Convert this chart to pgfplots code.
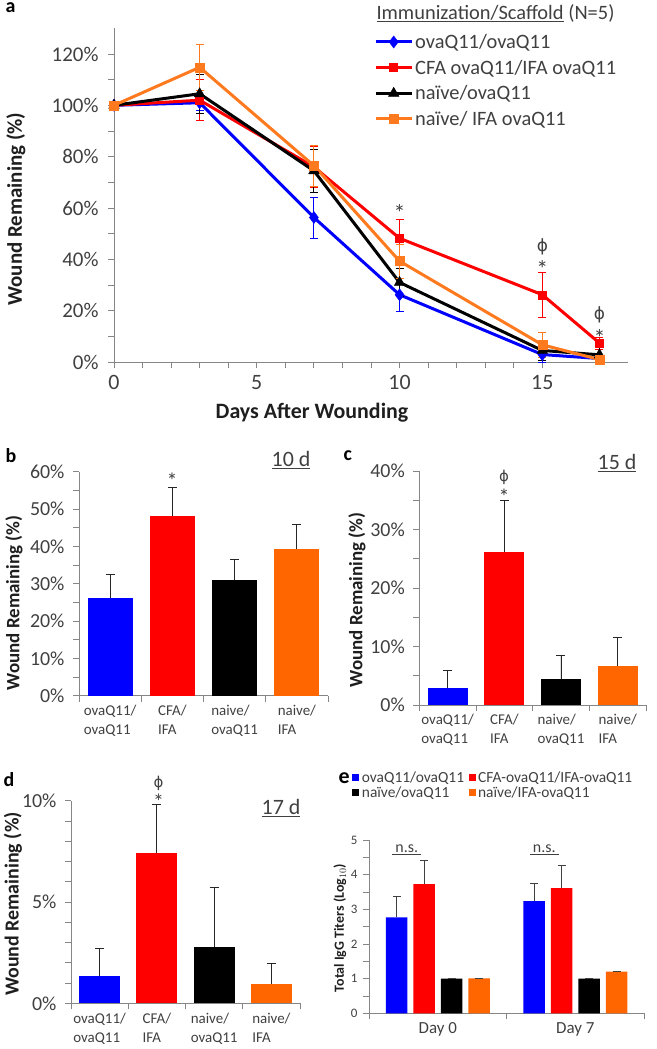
\documentclass[border=0pt]{standalone}
\usepackage{fontspec}
\setmainfont{Carlito}
\newfontfamily\dvs{DejaVu Sans}
\usepackage{pgfplots}
\pgfplotsset{compat=1.18}
\definecolor{cblue}{RGB}{0,0,255}
\definecolor{cred}{RGB}{255,0,0}
\definecolor{corange}{RGB}{255,102,0}
\definecolor{corl}{RGB}{255,122,30}
\definecolor{axgray}{RGB}{134,134,134}
\definecolor{txt}{RGB}{64,64,64}
\definecolor{ttl}{RGB}{30,30,30}
\newcommand{\fs}[1]{\fontsize{#1}{#1}\selectfont}
\newcommand{\ph}{{\dvs ϕ}}
\pgfplotsset{
 base/.style={scale only axis, anchor=south west, axis lines*=left,
   axis line style={axgray, line width=0.9bp},
   tick align=outside, major tick length=6bp, minor tick length=6bp,
   tick style={axgray, line width=0.8bp},
   /pgf/number format/assume math mode=true,
   ticklabel style={text=txt},
   clip=false},
 pct/.style={yticklabel={\pgfmathprintnumber{\tick}\%}},
 barax/.style={base, pct, xmin=-0.5, xmax=3.5, xtick={0,1,2,3},
    xticklabels={{ovaQ11/\\ovaQ11},{CFA/\\IFA},{naive/\\ovaQ11},{naive/\\IFA}},
    xticklabel style={align=left, font=\fontsize{15}{19}\selectfont},
    major x tick style={draw=none}, minor xtick={-0.5,0.5,1.5,2.5,3.5},
    yticklabel style={font=\fs{20}, xshift=-5bp}, ymin=0},
 bb/.style={ybar, draw=none, bar shift=0pt,
    error bars/.cd, y dir=plus, y explicit,
    error bar style={draw=black!85, line width=0.8bp},
    error mark options={rotate=90, mark size=4.5bp, draw=black!85, line width=0.8bp},
    /pgfplots/.cd},
 ln/.style={line width=3bp, mark options={line width=0.5bp},
    error bars/.cd, y dir=both, y explicit,
    error bar style={line width=0.8bp},
    error mark options={rotate=90, mark size=4bp, line width=0.8bp},
    /pgfplots/.cd},
}
\begin{document}
\begin{tikzpicture}[x=1bp,y=1bp]
\useasboundingbox (0,0) rectangle (657,-1049);

% ---------------- panel a
\begin{axis}[base, pct, at={(114bp,-362bp)}, width=514bp, height=333.7bp,
  xmin=0, xmax=18, ymin=0, ymax=130,
  xtick={0,5,10,15}, minor x tick num=4,
  ytick={0,20,...,120}, minor y tick num=1,
  xticklabel style={font=\fs{22}, yshift=-4bp},
  yticklabel style={font=\fs{21}, xshift=-6bp},
  legend image code/.code={\draw[mark repeat=2,mark phase=2,#1] plot coordinates {(0bp,0bp) (18bp,0bp) (36bp,0bp)};},
  legend style={draw=none, fill=none, anchor=north west, at={(axis description cs:0.5,0.995)},
    font=\fs{20.5}, text=txt, row sep=6bp, legend cell align=left}]
\addplot[cblue, mark=diamond*, mark size=6bp, ln]
 coordinates {(0,100)+-(0,0) (3,101)+-(0,3) (7,56.3)+-(0,8) (10,26.2)+-(0,6.3) (15,2.9)+-(0,3.1) (17,1.35)+-(0,1.35)};
\addlegendentry{ovaQ11/ovaQ11}
\addplot[cred, mark=square*, mark size=4bp, ln]
 coordinates {(0,100)+-(0,0) (3,102)+-(0,8) (7,76)+-(0,8) (10,48.2)+-(0,7.4) (15,26.2)+-(0,8.8) (17,7.4)+-(0,2.3)};
\addlegendentry{CFA ovaQ11/IFA ovaQ11}
\addplot[black, mark=triangle*, mark size=6bp, ln]
 coordinates {(0,100)+-(0,0) (3,104.5)+-(0,7.5) (7,74.5)+-(0,8.5) (10,31)+-(0,5.4) (15,4.5)+-(0,3.9) (17,2.8)+-(0,2.9)};
\addlegendentry{naïve/ovaQ11}
\addplot[corl, mark=square*, mark size=4.5bp, ln]
 coordinates {(0,100)+-(0,0) (3,114.8)+-(0,9) (7,76.5)+-(0,8) (10,39.3)+-(0,6.7) (15,6.7)+-(0,4.8) (17,0.95)+-(0,1)};
\addlegendentry{naïve/ IFA ovaQ11}
\node[font=\fs{24}, text=txt, yshift=-5bp] at (axis cs:10,60) {*};
\node[text=txt, font=\fs{17}] at (axis cs:15,45) {\ph};
\node[font=\fs{24}, text=txt, yshift=-5bp] at (axis cs:15,38) {*};
\node[text=txt, font=\fs{17}] at (axis cs:17,18.5) {\ph};
\node[font=\fs{24}, text=txt, yshift=-5bp] at (axis cs:17,11.4) {*};
\end{axis}
\node[font=\bfseries\fs{20}, anchor=west] at (2,-8) {a};
\node[font=\fs{20.5}, text=txt, anchor=west] at (373,-13) {\underline{Immunization/Scaffold} (N=5)};
\node[rotate=90, font=\bfseries\fs{21}, text=ttl] at (16,-209) {Wound Remaining (\%)};
\node[font=\bfseries\fs{22}, text=ttl] at (312,-413) {Days After Wounding};

% ---------------- panel b
\begin{axis}[barax, at={(79bp,-695.7bp)}, width=249bp, height=224bp, ymax=60,
  ytick={0,10,...,60}, minor y tick num=1]
\addplot[fill=cblue, bar width=45bp, bb] coordinates {(0,26.2)+-(0,6.3)};
\addplot[fill=cred, bar width=45bp, bb] coordinates {(1,48.2)+-(0,7.5)};
\addplot[fill=black, bar width=45bp, bb] coordinates {(2,31.1)+-(0,5.5)};
\addplot[fill=corange, bar width=45bp, bb] coordinates {(3,39.3)+-(0,6.7)};
\end{axis}
\node[font=\bfseries\fs{20}, anchor=west] at (2,-456) {b};
\node[font=\fs{22}, text=txt] at (291,-460) {\underline{10 d}};
\node[font=\fs{22}, text=txt] at (172,-481) {*};
\node[rotate=90, font=\bfseries\fs{19}, text=ttl] at (14,-603) {Wound Remaining (\%)};

% ---------------- panel c
\begin{axis}[barax, at={(419.3bp,-705bp)}, width=226.7bp, height=234bp, ymax=40,
  ytick={0,10,...,40}, minor y tick num=1]
\addplot[fill=cblue, bar width=40bp, bb] coordinates {(0,2.9)+-(0,3.1)};
\addplot[fill=cred, bar width=40bp, bb] coordinates {(1,26.2)+-(0,8.8)};
\addplot[fill=black, bar width=40bp, bb] coordinates {(2,4.5)+-(0,3.9)};
\addplot[fill=corange, bar width=40bp, bb] coordinates {(3,6.7)+-(0,4.8)};
\end{axis}
\node[font=\bfseries\fs{20}, anchor=west] at (340,-456) {c};
\node[font=\fs{22}, text=txt] at (617,-463) {\underline{15 d}};
\node[font=\fs{15}, text=txt] at (504,-477) {\ph};
\node[font=\fs{22}, text=txt] at (504,-497) {*};
\node[rotate=90, font=\bfseries\fs{19}, text=ttl] at (357,-600) {Wound Remaining (\%)};

% ---------------- panel d
\begin{axis}[barax, at={(71bp,-1003.3bp)}, width=229bp, height=202.6bp, ymax=10,
  ytick={0,5,10}, minor y tick num=4]
\addplot[fill=cblue, bar width=41bp, bb] coordinates {(0,1.35)+-(0,1.35)};
\addplot[fill=cred, bar width=41bp, bb] coordinates {(1,7.4)+-(0,2.4)};
\addplot[fill=black, bar width=41bp, bb] coordinates {(2,2.8)+-(0,2.9)};
\addplot[fill=corange, bar width=41bp, bb] coordinates {(3,0.95)+-(0,1.0)};
\end{axis}
\node[font=\bfseries\fs{20}, anchor=west] at (0,-780) {d};
\node[font=\fs{22}, text=txt] at (281,-808) {\underline{17 d}};
\node[font=\fs{15}, text=txt] at (158.5,-783) {\ph};
\node[font=\fs{22}, text=txt] at (158.5,-802) {*};
\node[rotate=90, font=\bfseries\fs{20}, text=ttl] at (13,-904) {Wound Remaining (\%)};

% ---------------- panel e
\begin{axis}[base, at={(369bp,-1013.3bp)}, width=275bp, height=173.3bp,
  xmin=-0.5, xmax=1.5, ymin=0, ymax=5, ybar=6bp, bar width=21.5bp,
  xtick={0,1}, xticklabels={Day 0, Day 7}, major x tick style={draw=none},
  minor xtick={-0.5,0.5,1.5},
  ytick={0,1,...,5}, minor y tick num=1,
  xticklabel style={font=\fs{17}}, yticklabel style={font=\fs{13}, xshift=-2bp},
  legend columns=2,
  legend style={draw=none, fill=none, anchor=north west, at={(axis description cs:-0.072,1.41)},
    font=\fs{15.5}, text=txt, row sep=2bp, legend cell align=left, column sep=0bp,
    nodes={inner sep=0.5bp},
    /tikz/every odd column/.append style={column sep=2bp},
    /tikz/every even column/.append style={column sep=4bp}},
  every axis plot/.append style={draw=none,
    error bars/.cd, y dir=plus, y explicit,
    error bar style={draw=black!75, line width=0.8bp},
    error mark options={rotate=90, mark size=4bp, draw=black!75, line width=0.8bp},
    /pgfplots/.cd}]
\addplot[fill=cblue, legend image code/.code={\fill[cblue] (0bp,-3.5bp) rectangle (7bp,3.5bp);}]
  coordinates {(0,2.77)+-(0,0.61) (1,3.24)+-(0,0.50)};
\addlegendentry{ovaQ11/ovaQ11}
\addplot[fill=cred, legend image code/.code={\fill[cred] (0bp,-3.5bp) rectangle (7bp,3.5bp);}]
  coordinates {(0,3.73)+-(0,0.67) (1,3.61)+-(0,0.66)};
\addlegendentry{CFA-ovaQ11/IFA-ovaQ11}
\addplot[fill=black, legend image code/.code={\fill[black] (0bp,-3.5bp) rectangle (7bp,3.5bp);}]
  coordinates {(0,1.0)+-(0,0) (1,1.0)+-(0,0)};
\addlegendentry{naïve/ovaQ11}
\addplot[fill=corange, legend image code/.code={\fill[corange] (0bp,-3.5bp) rectangle (7bp,3.5bp);}]
  coordinates {(0,1.01)+-(0,0.01) (1,1.20)+-(0,0.02)};
\addlegendentry{naïve/IFA-ovaQ11}
\draw[txt, line width=0.8bp] (axis cs:-0.33,4.59) -- (axis cs:-0.12,4.59);
\draw[txt, line width=0.8bp] (axis cs:0.67,4.59) -- (axis cs:0.88,4.59);
\node[font=\fs{16}, text=txt, anchor=south, inner sep=1bp] at (axis cs:-0.225,4.59) {n.s.};
\node[font=\fs{16}, text=txt, anchor=south, inner sep=1bp] at (axis cs:0.775,4.59) {n.s.};
\end{axis}
\node[font=\bfseries\fs{22}, anchor=west] at (335,-778) {e};
\node[rotate=90, font=\bfseries\fs{14}, text=ttl] at (340,-928) {Total IgG Titers (Log$_{10}$)};
\end{tikzpicture}
\end{document}
